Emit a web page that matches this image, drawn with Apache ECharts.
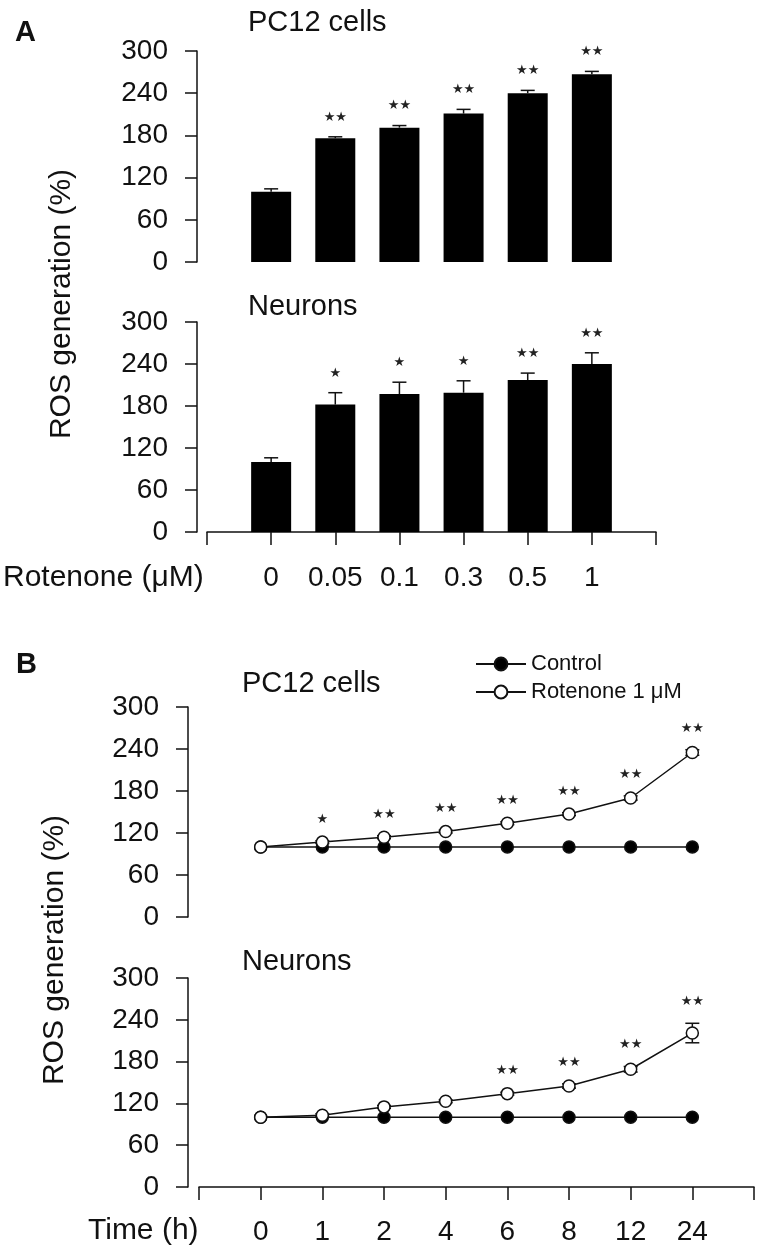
<!DOCTYPE html>
<html>
<head>
<meta charset="utf-8">
<script src="https://cdn.jsdelivr.net/npm/echarts@6/dist/echarts.min.js"></script>
<style>
  html, body { margin: 0; padding: 0; background: #fff; }
  #chart { width: 757px; height: 1250px; }
</style>
</head>
<body>
<div id="chart"></div>
<script>
// panel A: ROS vs rotenone dose
const doseLabels = ["0", "0.05", "0.1", "0.3", "0.5", "1"];
const pc12Dose = [100, 176, 191, 211, 240, 267];
const pc12DoseErr = [4, 2, 3, 6, 4, 4];
const pc12DoseSig = ["", "**", "**", "**", "**", "**"];
const neuronDose = [100, 182, 197, 199, 217, 240];
const neuronDoseErr = [6, 17, 17, 17, 10, 16];
const neuronDoseSig = ["", "*", "*", "*", "**", "**"];

// panel B: ROS vs time
const timeLabels = ["0", "1", "2", "4", "6", "8", "12", "24"];
const pc12Control = [100, 100, 100, 100, 100, 100, 100, 100];
const pc12Rot = [100, 107, 114, 122, 134, 147, 170, 235];
const pc12RotErr = [0, 2, 2, 2, 2, 2, 3, 4];
const pc12TimeSig = ["", "*", "**", "**", "**", "**", "**", "**"];
const neuronControl = [100, 100, 100, 100, 100, 100, 100, 100];
const neuronRot = [100, 103, 115, 123, 134, 145, 169, 221];
const neuronRotErr = [0, 2, 2, 2, 2, 3, 4, 14];
const neuronTimeSig = ["", "", "", "", "**", "**", "**", "**"];

const yTicks = { min: 0, max: 300, interval: 60 };

const FONT = "'Liberation Sans', Arial, Helvetica, sans-serif";
const INK = "#111";

const chart = echarts.init(document.getElementById("chart"), null, { renderer: "canvas" });

function yAxis(gridIndex, offset) {
  return {
    type: "value", gridIndex, ...yTicks, offset,
    axisLine: { show: true, onZero: false, lineStyle: { color: INK, width: 1.5 } },
    axisTick: { show: true, length: 12, lineStyle: { color: INK, width: 1.5 } },
    axisLabel: { color: INK, fontSize: 28, fontFamily: FONT, margin: 29 },
    splitLine: { show: false },
  };
}

function xAxis(gridIndex, labels, visible, margin) {
  return {
    type: "value", gridIndex, min: -1, max: labels.length, interval: 1, show: visible,
    axisLine: { show: true, onZero: false, lineStyle: { color: INK, width: 1.5 } },
    axisTick: { show: true, length: 13, lineStyle: { color: INK, width: 1.5 } },
    axisLabel: {
      color: INK, fontSize: 28, fontFamily: FONT, margin,
      showMinLabel: true, showMaxLabel: true,
      formatter: (v) => (v >= 0 && v < labels.length ? labels[v] : ""),
    },
    splitLine: { show: false },
  };
}

function errorBars(idx, means, errs, both) {
  return {
    type: "custom", xAxisIndex: idx, yAxisIndex: idx, z: both ? 1 : 5, silent: true,
    data: means.map((m, i) => [i, m, errs[i]]),
    renderItem(params, api) {
      const x = api.value(0), m = api.value(1), e = api.value(2);
      if (!e) return null;
      const top = api.coord([x, m + e]);
      const bot = api.coord([x, both ? m - e : m]);
      const cap = 14;
      const st = { stroke: INK, lineWidth: 1.5 };
      const kids = [
        { type: "line", shape: { x1: top[0], y1: top[1], x2: bot[0], y2: bot[1] }, style: st },
        { type: "line", shape: { x1: top[0] - cap / 2, y1: top[1], x2: top[0] + cap / 2, y2: top[1] }, style: st },
      ];
      if (both) kids.push({ type: "line", shape: { x1: bot[0] - cap / 2, y1: bot[1], x2: bot[0] + cap / 2, y2: bot[1] }, style: st });
      return { type: "group", children: kids };
    },
  };
}

function stars(idx, means, errs, sigs, gap) {
  return {
    type: "custom", xAxisIndex: idx, yAxisIndex: idx, z: 6, silent: true,
    data: means.map((m, i) => [i, m + errs[i]]),
    renderItem(params, api) {
      const s = sigs[params.dataIndex];
      if (!s) return null;
      const p = api.coord([api.value(0), api.value(1)]);
      return {
        type: "text", x: p[0], y: p[1] - gap,
        style: {
          text: s.replace(/\*/g, "★"), fill: "#222", font: "13px 'DejaVu Sans', sans-serif",
          textAlign: "center", textVerticalAlign: "bottom",
        },
      };
    },
  };
}

function barSeries(idx, values) {
  return {
    type: "bar", xAxisIndex: idx, yAxisIndex: idx, barWidth: 40, z: 3,
    itemStyle: { color: "#000" },
    data: values.map((v, i) => [i, v]),
  };
}

function lineSeries(idx, name, values, filled) {
  return {
    type: "line", name, xAxisIndex: idx, yAxisIndex: idx, z: filled ? 3 : 4,
    symbol: "circle", symbolSize: 12, showAllSymbol: true,
    lineStyle: { color: INK, width: 1.5 },
    itemStyle: { color: filled ? "#000" : "#fff", borderColor: INK, borderWidth: 1.5 },
    data: values.map((v, i) => [i, v]),
  };
}

function text(x, y, str, font, extra) {
  return {
    type: "text", x, y, silent: true,
    style: Object.assign({ text: str, font: font, fill: INK, textVerticalAlign: "middle" }, extra || {}),
  };
}

const option = {
  animation: false,
  backgroundColor: "#fff",
  grid: [
    { left: 207, top: 51, width: 449, height: 211, outerBoundsMode: "none" },
    { left: 207, top: 322, width: 449, height: 210, outerBoundsMode: "none" },
    { left: 199, top: 707, width: 555, height: 210, outerBoundsMode: "none" },
    { left: 199, top: 978, width: 555, height: 209, outerBoundsMode: "none" },
  ],
  xAxis: [
    xAxis(0, doseLabels, false, 32),
    xAxis(1, doseLabels, true, 32),
    xAxis(2, timeLabels, false, 31),
    xAxis(3, timeLabels, true, 31),
  ],
  yAxis: [yAxis(0, 10), yAxis(1, 10), yAxis(2, 11), yAxis(3, 11)],
  legend: {
    orient: "vertical", left: 470, top: 648, itemWidth: 50, itemHeight: 16, itemGap: 6,
    textStyle: { color: INK, fontSize: 22, fontFamily: FONT },
    data: ["Control", "Rotenone 1 μM"],
  },
  series: [
    barSeries(0, pc12Dose),
    errorBars(0, pc12Dose, pc12DoseErr, false),
    stars(0, pc12Dose, pc12DoseErr, pc12DoseSig, 13),
    barSeries(1, neuronDose),
    errorBars(1, neuronDose, neuronDoseErr, false),
    stars(1, neuronDose, neuronDoseErr, neuronDoseSig, 13),
    errorBars(2, pc12Rot, pc12RotErr, true),
    lineSeries(2, "Control", pc12Control, true),
    lineSeries(2, "Rotenone 1 μM", pc12Rot, false),
    stars(2, pc12Rot, pc12RotErr, pc12TimeSig, 15),
    errorBars(3, neuronRot, neuronRotErr, true),
    lineSeries(3, "Control", neuronControl, true),
    lineSeries(3, "Rotenone 1 μM", neuronRot, false),
    stars(3, neuronRot, neuronRotErr, neuronTimeSig, 15),
  ],
  graphic: [
    text(15, 33, "A", "bold 29px " + FONT),
    text(248, 23, "PC12 cells", "29px " + FONT),
    text(248, 307, "Neurons", "29px " + FONT),
    text(3, 578, "Rotenone (μM)", "30px " + FONT),
    { type: "text", x: 62, y: 304, rotation: Math.PI / 2, silent: true,
      style: { text: "ROS generation (%)", font: "30px " + FONT, fill: INK, textAlign: "center", textVerticalAlign: "middle" } },
    text(16, 665, "B", "bold 29px " + FONT),
    text(242, 684, "PC12 cells", "29px " + FONT),
    text(242, 962, "Neurons", "29px " + FONT),
    text(88, 1231, "Time (h)", "30px " + FONT),
    { type: "text", x: 55, y: 950, rotation: Math.PI / 2, silent: true,
      style: { text: "ROS generation (%)", font: "30px " + FONT, fill: INK, textAlign: "center", textVerticalAlign: "middle" } },
  ],
};

chart.setOption(option);
</script>
</body>
</html>
